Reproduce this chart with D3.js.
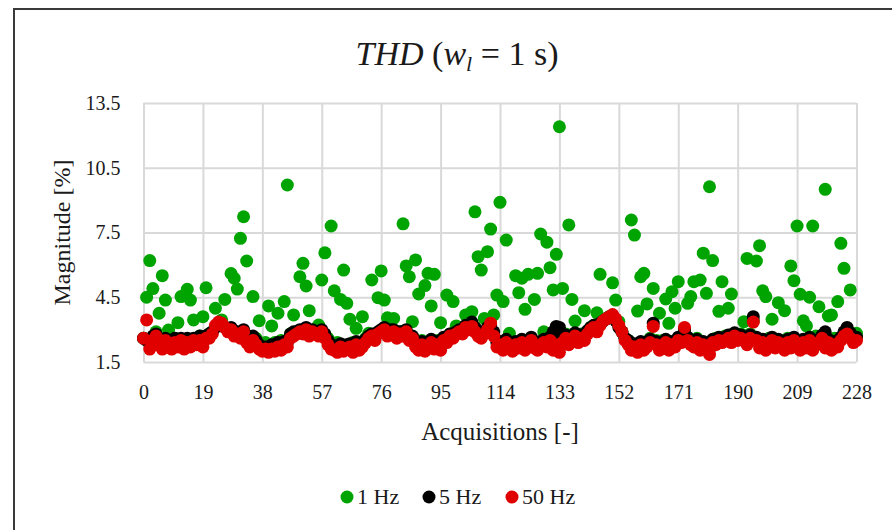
<!DOCTYPE html>
<html>
<head>
<meta charset="utf-8">
<script src="https://cdn.jsdelivr.net/npm/d3@7"></script>
<style>
  body { margin: 0; background: #ffffff; }
  svg { display: block; }
</style>
</head>
<body>
<div id="chart"></div>
<script>
// tick labels
var xTicks = [0, 19, 38, 57, 76, 95, 114, 133, 152, 171, 190, 209, 228];
var yTicks = [1.5, 4.5, 7.5, 10.5, 13.5];

// THD magnitude [%] for each acquisition 0..228
var hz1 = [
  2.6, 4.5, 6.2, 4.9, 2.9, 3.76, 5.5, 4.37, 2.98, 2.5, 2.6, 3.32, 4.53, 2.5, 4.87, 4.37, 3.45, 2.6, 2.7, 3.6,
  4.94, 2.8, 2.9, 3.99, 3.3, 3.45, 4.4, 3.0, 5.6, 5.38, 4.88, 7.23, 8.23, 6.18, 2.6, 4.53, 2.6, 3.41, 2.3, 2.4,
  4.1, 3.17, 2.4, 3.76, 2.5, 4.3, 9.7, 2.8, 3.68, 2.9, 5.45, 6.07, 5.02, 3.88, 2.9, 2.8, 3.21, 5.3, 6.56, 2.6,
  7.8, 4.8, 2.4, 4.4, 5.76, 4.22, 3.48, 2.4, 3.06, 2.4, 3.6, 2.6, 2.83, 5.3, 2.7, 4.48, 5.72, 4.37, 3.55, 2.9,
  3.52, 2.8, 2.9, 7.9, 5.95, 5.45, 3.37, 6.23, 4.65, 2.5, 5.04, 5.61, 4.1, 5.56, 2.5, 3.32, 2.6, 4.6, 2.8, 4.3,
  3.17, 2.9, 2.9, 3.68, 3.1, 3.83, 8.46, 6.38, 5.76, 3.52, 6.61, 7.66, 3.68, 4.6, 8.9, 4.3, 7.15, 2.83, 2.4, 5.5,
  4.71, 5.38, 3.94, 5.56, 2.6, 4.4, 5.61, 7.43, 2.9, 7.05, 5.87, 4.84, 6.49, 12.4, 4.91, 2.8, 7.85, 4.4, 3.4, 2.7,
  2.8, 3.88, 2.9, 3.1, 3.2, 3.78, 5.56, 3.4, 3.5, 3.6, 5.17, 4.37, 3.37, 2.9, 2.6, 2.5, 8.08, 7.38, 3.86, 5.45,
  5.61, 4.19, 2.6, 4.91, 2.5, 3.76, 2.5, 4.42, 3.29, 4.76, 3.99, 5.22, 2.6, 3.0, 4.22, 4.53, 5.22, 2.6, 5.3, 6.54,
  4.68, 9.62, 6.2, 2.6, 3.85, 5.22, 2.7, 3.99, 4.65, 2.8, 2.7, 2.8, 3.37, 6.3, 2.8, 3.4, 6.18, 6.89, 4.8, 4.53,
  2.6, 3.48, 2.5, 4.25, 2.5, 3.88, 2.6, 5.95, 5.27, 7.8, 4.64, 3.41, 3.17, 4.5, 7.8, 2.7, 4.06, 2.5, 9.5, 3.63,
  3.68, 2.6, 4.3, 7.0, 5.84, 2.9, 4.84, 2.7, 2.83
];
var hz5 = [
  2.6, 2.5, 2.5, 2.7, 2.8, 2.5, 2.4, 2.6, 2.4, 2.3, 2.6, 2.4, 2.6, 2.3, 2.6, 2.4, 2.6, 2.5, 2.7, 2.4,
  2.7, 2.8, 2.9, 3.1, 3.3, 3.2, 3.1, 3.0, 3.1, 2.9, 2.9, 2.8, 3.0, 2.7, 2.5, 2.7, 2.5, 2.3, 2.2, 2.2,
  2.15, 2.3, 2.2, 2.4, 2.25, 2.45, 2.4, 2.8, 2.9, 2.9, 3.0, 3.0, 3.1, 2.9, 3.0, 2.9, 2.9, 3.0, 2.8, 2.5,
  2.3, 2.25, 2.15, 2.35, 2.2, 2.3, 2.35, 2.15, 2.45, 2.25, 2.35, 2.55, 2.7, 2.8, 2.7, 2.9, 3.0, 3.1, 2.9, 3.0,
  3.0, 2.8, 2.9, 2.9, 3.0, 2.7, 2.7, 2.4, 2.25, 2.45, 2.2, 2.4, 2.55, 2.3, 2.45, 2.25, 2.65, 2.6, 2.8, 2.8,
  2.9, 3.0, 3.0, 3.2, 3.2, 3.35, 3.1, 2.9, 2.8, 2.9, 3.1, 3.2, 2.9, 2.4, 2.45, 2.25, 2.55, 2.35, 2.2, 2.45,
  2.35, 2.55, 2.25, 2.45, 2.65, 2.35, 2.25, 2.45, 2.55, 2.4, 2.65, 2.9, 3.15, 3.1, 2.6, 2.75, 2.5, 2.65, 2.85, 2.6,
  2.75, 2.7, 2.95, 3.1, 3.2, 3.0, 3.3, 3.4, 3.5, 3.6, 3.6, 3.4, 3.1, 2.9, 2.6, 2.5, 2.25, 2.35, 2.15, 2.45,
  2.25, 2.35, 2.55, 3.3, 2.45, 2.25, 2.35, 2.55, 2.25, 2.45, 2.35, 2.65, 2.55, 3.0, 2.65, 2.45, 2.35, 2.55, 2.25, 2.45,
  2.35, 2.1, 2.55, 2.45, 2.65, 2.55, 2.65, 2.75, 2.55, 2.85, 2.65, 2.75, 2.65, 2.45, 2.75, 3.6, 2.65, 2.35, 2.55, 2.25,
  2.45, 2.65, 2.35, 2.55, 2.45, 2.25, 2.55, 2.35, 2.65, 2.45, 2.25, 2.55, 2.35, 2.65, 2.25, 2.45, 2.55, 2.75, 2.9, 2.55,
  2.25, 2.45, 2.4, 2.65, 2.9, 3.1, 2.85, 2.6, 2.65
];
var hz50 = [
  2.6, 3.45, 2.1, 2.5, 2.7, 2.3, 2.1, 2.5, 2.2, 2.1, 2.4, 2.2, 2.5, 2.1, 2.4, 2.2, 2.5, 2.3, 2.5, 2.2,
  2.6, 2.6, 2.8, 3.2, 3.35, 3.3, 3.1, 2.9, 3.0, 2.7, 2.8, 2.6, 2.9, 2.4, 2.2, 2.5, 2.3, 2.1, 2.0, 2.1,
  1.95, 2.1, 2.0, 2.2, 2.05, 2.3, 2.2, 2.6, 2.7, 2.8, 2.9, 2.8, 3.0, 2.7, 2.9, 2.8, 2.7, 2.9, 2.6, 2.3,
  2.1, 2.05, 1.95, 2.2, 2.0, 2.1, 2.2, 1.95, 2.3, 2.05, 2.2, 2.4, 2.6, 2.7, 2.5, 2.8, 2.9, 3.0, 2.7, 2.8,
  2.9, 2.6, 2.8, 2.7, 2.9, 2.5, 2.6, 2.2, 2.05, 2.3, 2.0, 2.2, 2.4, 2.1, 2.3, 2.05, 2.5, 2.4, 2.7, 2.6,
  2.8, 2.9, 2.8, 3.1, 3.0, 3.15, 2.9, 2.7, 2.6, 2.8, 3.0, 3.3, 2.7, 2.2, 2.3, 2.05, 2.4, 2.15, 2.0, 2.3,
  2.15, 2.4, 2.05, 2.3, 2.5, 2.15, 2.05, 2.3, 2.4, 2.2, 2.5, 2.05, 2.3, 1.95, 2.4, 2.6, 2.3, 2.5, 2.7, 2.4,
  2.6, 2.5, 2.8, 3.0, 3.1, 2.9, 3.2, 3.4, 3.5, 3.6, 3.7, 3.5, 3.2, 2.9, 2.5, 2.3, 2.05, 2.2, 1.95, 2.3,
  2.05, 2.2, 2.4, 3.15, 2.3, 2.05, 2.2, 2.4, 2.05, 2.3, 2.2, 2.5, 2.4, 3.1, 2.5, 2.3, 2.2, 2.4, 2.05, 2.3,
  2.2, 1.85, 2.4, 2.3, 2.5, 2.4, 2.5, 2.6, 2.4, 2.7, 2.5, 2.6, 2.5, 2.3, 2.6, 3.35, 2.5, 2.15, 2.4, 2.05,
  2.3, 2.5, 2.15, 2.4, 2.3, 2.05, 2.4, 2.15, 2.5, 2.3, 2.05, 2.4, 2.15, 2.5, 2.05, 2.3, 2.4, 2.6, 2.15, 2.4,
  2.05, 2.3, 2.2, 2.5, 2.7, 2.8, 2.6, 2.4, 2.5
];

var seriesNames = ["1 Hz", "5 Hz", "50 Hz"];
var seriesColors = ["#00a400", "#000000", "#e00000"];

var w = 892;
var h = 530;
var fontFam = "'Liberation Serif', 'DejaVu Serif', serif";

var svg = d3.select("#chart")
            .append("svg")
            .attr("width", w)
            .attr("height", h);

svg.append("rect")
   .attr("width", w)
   .attr("height", h)
   .attr("fill", "#ffffff");

// outer chart frame (only top and left show in the window)
svg.append("path")
   .attr("d", "M14," + (h + 5) + " L14,9 L" + (w + 5) + ",9")
   .attr("fill", "none")
   .attr("stroke", "#3a3a3a")
   .attr("stroke-width", 2);

// plot area edges (window.top is reserved, so no "top" here)
var plotL = 143.5, plotR = 856.5, plotT = 103, plotB = 362;

var x = d3.scaleLinear().domain([0, 228]).range([plotL, plotR]);
var y = d3.scaleLinear().domain([1.5, 13.5]).range([plotB, plotT]);

// x axis with vertical gridlines
var xAxis = svg.append("g")
               .attr("transform", "translate(0," + plotB + ")")
               .call(d3.axisBottom(x).tickValues(xTicks).tickSize(-(plotB - plotT)).tickPadding(23).tickFormat(d3.format("d")));

// y axis with horizontal gridlines
var yAxis = svg.append("g")
               .attr("transform", "translate(" + plotL + ",0)")
               .call(d3.axisLeft(y).tickValues(yTicks).tickSize(-(plotR - plotL)).tickPadding(23).tickFormat(d3.format(".1f")));

[xAxis, yAxis].forEach(function(ax) {
    ax.select(".domain").remove();
    ax.selectAll("line").attr("stroke", "#d9d9d9").attr("stroke-width", 2);
    ax.selectAll("text")
      .attr("font-family", fontFam)
      .attr("font-size", 20)
      .attr("fill", "#1a1a1a");
});

// markers, green first so red sits on top
var allSeries = [hz1, hz5, hz50];
allSeries.forEach(function(vals, k) {
    svg.append("g")
       .selectAll("circle")
       .data(vals)
       .enter()
       .append("circle")
       .attr("cx", function(d, i) { return x(i); })
       .attr("cy", function(d) { return y(d); })
       .attr("r", 6.5)
       .attr("fill", seriesColors[k]);
});

// title
var title = svg.append("text")
               .attr("x", 457)
               .attr("y", 65)
               .attr("text-anchor", "middle")
               .attr("font-family", fontFam)
               .attr("font-size", 34)
               .attr("fill", "#1a1a1a");
title.append("tspan").attr("font-style", "italic").text("THD");
title.append("tspan").text(" (");
title.append("tspan").attr("font-style", "italic").text("w");
title.append("tspan").attr("font-style", "italic").attr("font-size", 22).attr("dy", 6).text("l");
title.append("tspan").attr("dy", -6).text(" = 1 s)");

// axis titles
svg.append("text")
   .attr("transform", "translate(70," + ((plotT + plotB) / 2) + ") rotate(-90)")
   .attr("text-anchor", "middle")
   .attr("font-family", fontFam)
   .attr("font-size", 24)
   .attr("fill", "#1a1a1a")
   .text("Magnitude [%]");

svg.append("text")
   .attr("x", (plotL + plotR) / 2)
   .attr("y", 440)
   .attr("text-anchor", "middle")
   .attr("font-family", fontFam)
   .attr("font-size", 25)
   .attr("fill", "#1a1a1a")
   .text("Acquisitions [-]");

// legend
var legendX = [347, 429, 512];
var legend = svg.selectAll("g.legend")
                .data(seriesNames)
                .enter()
                .append("g")
                .attr("class", "legend")
                .attr("transform", function(d, i) { return "translate(" + legendX[i] + ",497)"; });
legend.append("circle")
      .attr("r", 6.5)
      .attr("fill", function(d, i) { return seriesColors[i]; });
legend.append("text")
      .attr("x", 10)
      .attr("y", 7)
      .attr("font-family", fontFam)
      .attr("font-size", 22)
      .attr("fill", "#1a1a1a")
      .text(function(d) { return d; });
</script>
</body>
</html>
